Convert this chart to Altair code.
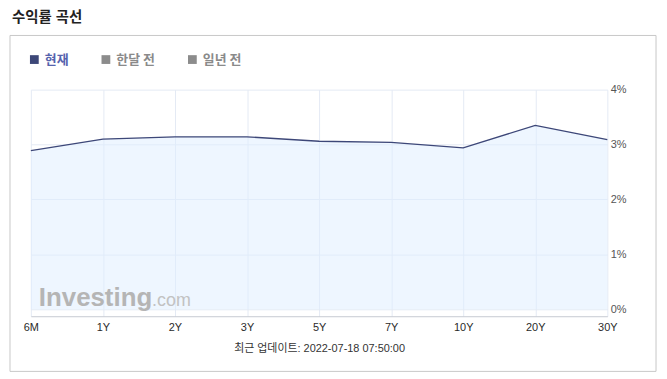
import altair as alt
import pandas as pd

# ---- data ----
tenors = ["6M", "1Y", "2Y", "3Y", "5Y", "7Y", "10Y", "20Y", "30Y"]
yields = [2.89, 3.10, 3.14, 3.14, 3.06, 3.04, 2.94, 3.35, 3.09]
series_name = "현재"
legend_items = ["현재", "한달 전", "일년 전"]
legend_colors = ["#3d4778", "#8c8c8c", "#8c8c8c"]
y_ticks = [0, 1, 2, 3, 4]
title_text = "수익률 곡선"
footer_text = "최근 업데이트: 2022-07-18 07:50:00"
wm_main = "Investing"
wm_sub = ".com"

W, H = 580, 228
Y_MIN, Y_MAX = -0.127, 4.0
FONT = "Liberation Sans, Noto Sans CJK KR, sans-serif"
KFONT = "Noto Sans CJK KR, sans-serif"

df = pd.DataFrame({"tenor": tenors, "yield": yields, "series": [series_name] * len(tenors)})
one = pd.DataFrame({"k": [0]})

x_enc = alt.X(
    "tenor:N",
    sort=tenors,
    scale=alt.Scale(type="point", padding=0),
    axis=alt.Axis(
        orient="bottom", labelAngle=0, ticks=False, domain=True, domainColor="#c6cad2",
        grid=True, gridColor="#e4eaf4", labelFont=FONT, labelFontSize=11, labelColor="#2a2a2a",
        labelPadding=5, title=footer_text, titleFont=FONT, titleFontSize=11,
        titleFontWeight="normal", titleColor="#333333", titlePadding=10,
    ),
)
y_enc = alt.Y(
    "yield:Q",
    scale=alt.Scale(domain=[Y_MIN, Y_MAX], nice=False, zero=False),
    axis=alt.Axis(
        orient="right", values=y_ticks, labelExpr="datum.value + '%'", ticks=False,
        domain=False, grid=True, gridColor="#e4eaf4", labelFont=FONT, labelFontSize=11,
        labelColor="#555555", labelPadding=3, title=None,
    ),
)

base = alt.Chart(df)

area = base.mark_area(color="#ddeeff", opacity=0.5).encode(x=x_enc, y=y_enc, y2=alt.value(H))
line = base.mark_line(color="#3d4778", strokeWidth=1.3).encode(x=x_enc, y=y_enc)
legend_layer = base.mark_square(opacity=0, size=1).encode(
    x=x_enc,
    y=y_enc,
    color=alt.Color(
        "series:N",
        scale=alt.Scale(domain=legend_items, range=legend_colors),
        legend=alt.Legend(
            orient="none", legendX=-3, legendY=-37, direction="horizontal", title=None,
            symbolType="square", symbolSize=78, symbolOpacity=1, symbolStrokeWidth=0,
            labelFont=KFONT, labelFontSize=13, labelFontWeight="bold",
            labelColor=alt.ExprRef(expr="datum.label === '현재' ? '#5663ad' : '#8a8a8a'"),
            columnPadding=31, labelOffset=4, padding=0,
        ),
    ),
)

box = alt.Chart(one).mark_rect(fillOpacity=0, stroke="#c8c8c8", strokeWidth=1).encode(
    x=alt.value(-21), x2=alt.value(629), y=alt.value(-54.5), y2=alt.value(283.5)
)
title = alt.Chart(one).mark_text(
    align="left", baseline="middle", font=FONT, fontSize=14.5, fontWeight="bold", color="#222222"
).encode(x=alt.value(-19), y=alt.value(-72), text=alt.value(title_text))
wm1 = alt.Chart(one).mark_text(
    align="left", baseline="alphabetic", font="Liberation Sans", fontSize=26, fontWeight="bold",
    color="#b5b5b5",
).encode(x=alt.value(8), y=alt.value(218), text=alt.value(wm_main))
wm2 = alt.Chart(one).mark_text(
    align="left", baseline="alphabetic", font="Liberation Sans", fontSize=18, color="#c2c2c2",
).encode(x=alt.value(122), y=alt.value(218), text=alt.value(wm_sub))

chart = (
    alt.layer(box, area, wm1, wm2, line, legend_layer, title)
    .properties(
        width=W, height=H,
        padding={"left": 23, "top": 81, "right": 52, "bottom": 57},
        autosize=alt.AutoSizeParams(type="none"),
        background="white",
    )
    .configure_view(stroke=None)
)

chart.save("out.html", embed_options={"renderer": "svg", "actions": False})
